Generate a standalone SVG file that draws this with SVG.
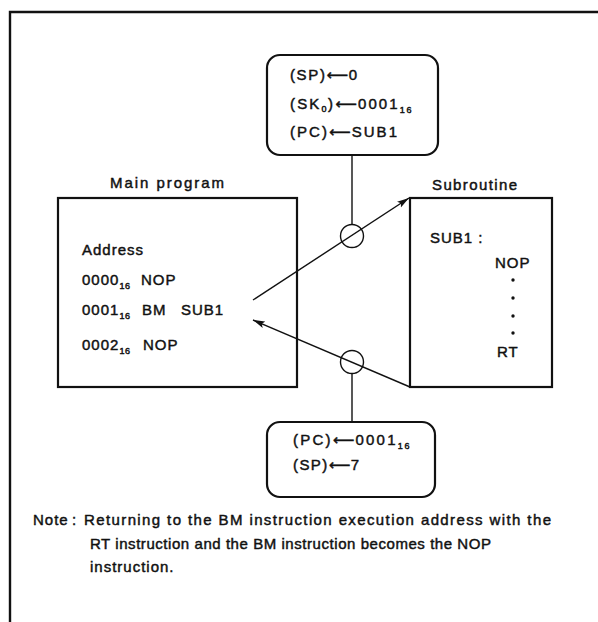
<svg xmlns="http://www.w3.org/2000/svg" width="598" height="622" viewBox="0 0 598 622">
  <style>
    .t { font-family: "Liberation Sans", Arial, sans-serif; font-size: 15px; letter-spacing: 1px; fill: #111; stroke: #111; stroke-width: 0.45px; }
    .sub { font-size: 9px; letter-spacing: 0.5px; }
    .ar { font-family: "DejaVu Sans", sans-serif; font-size: 15px; letter-spacing: 0; }
    .box { fill: none; stroke: #111; stroke-width: 2.2; }
    .ln { fill: none; stroke: #111; stroke-width: 1.4; }
  </style>
  <defs>
    <marker id="head" viewBox="0 0 12 8" refX="12" refY="4" markerWidth="12" markerHeight="8" markerUnits="userSpaceOnUse" orient="auto">
      <path d="M0,0.5 L12,4 L0,7.5 L2.5,4 Z" fill="#111"/>
    </marker>
  </defs>

  <rect width="598" height="622" fill="#fff"/>

  <!-- outer frame -->
  <path d="M10,622 V12 H598" fill="none" stroke="#111" stroke-width="2.4"/>

  <!-- connectors -->
  <g id="connectors">
    <line class="ln" x1="352" y1="155" x2="352" y2="224"/>
    <line class="ln" x1="352" y1="374" x2="352" y2="422"/>
    <circle class="ln" cx="352" cy="236" r="11.5"/>
    <circle class="ln" cx="352" cy="362" r="11.5"/>
    <line class="ln" x1="253" y1="300" x2="409" y2="198" marker-end="url(#head)"/>
    <line class="ln" x1="410" y1="387" x2="253" y2="320" marker-end="url(#head)"/>
  </g>

  <!-- call actions -->
  <g id="call-box">
    <rect class="box" x="267" y="55" width="171" height="100" rx="13"/>
    <text class="t" x="290" y="80" textLength="68" lengthAdjust="spacing">(SP)<tspan class="ar">⟵</tspan>0</text>
    <text class="t" x="290" y="109" textLength="122" lengthAdjust="spacing">(SK<tspan class="sub" dy="3">0</tspan><tspan dy="-3">)</tspan><tspan class="ar">⟵</tspan>0001<tspan class="sub" dy="4">16</tspan></text>
    <text class="t" x="290" y="137" textLength="108" lengthAdjust="spacing">(PC)<tspan class="ar">⟵</tspan>SUB1</text>
  </g>

  <!-- main program -->
  <g id="main-program">
    <text class="t" x="110" y="188" textLength="115" lengthAdjust="spacing">Main program</text>
    <rect class="box" x="58" y="198" width="239" height="189"/>
    <text class="t" x="82" y="255">Address</text>
    <text class="t" x="82" y="285">0000<tspan class="sub" dy="4">16</tspan><tspan x="141" dy="-4">NOP</tspan></text>
    <text class="t" x="82" y="315">0001<tspan class="sub" dy="4">16</tspan><tspan x="142" dy="-4">BM</tspan><tspan x="181">SUB1</tspan></text>
    <text class="t" x="82" y="350">0002<tspan class="sub" dy="4">16</tspan><tspan x="143" dy="-4">NOP</tspan></text>
  </g>

  <!-- subroutine -->
  <g id="subroutine">
    <text class="t" x="432" y="190" textLength="86" lengthAdjust="spacing">Subroutine</text>
    <rect class="box" x="410" y="198" width="142" height="189"/>
    <text class="t" x="430" y="243">SUB1 :</text>
    <text class="t" x="495" y="268">NOP</text>
    <circle cx="513" cy="280" r="1.7" fill="#111"/>
    <circle cx="513" cy="298" r="1.7" fill="#111"/>
    <circle cx="513" cy="316" r="1.7" fill="#111"/>
    <circle cx="513" cy="333" r="1.7" fill="#111"/>
    <text class="t" x="497" y="357">RT</text>
  </g>

  <!-- return actions -->
  <g id="return-box">
    <rect class="box" x="267" y="422" width="168" height="75" rx="13"/>
    <text class="t" x="293" y="445" textLength="117" lengthAdjust="spacing">(PC)<tspan class="ar">⟵</tspan>0001<tspan class="sub" dy="4">16</tspan></text>
    <text class="t" x="293" y="470" textLength="67" lengthAdjust="spacing">(SP)<tspan class="ar">⟵</tspan>7</text>
  </g>

  <!-- note -->
  <g id="note">
    <text class="t" x="33" y="525">Note</text>
    <text class="t" x="72" y="525">:</text>
    <text class="t" x="84" y="525" textLength="468" lengthAdjust="spacing">Returning to the BM instruction execution address with the</text>
    <text class="t" x="90" y="549" textLength="402" lengthAdjust="spacing">RT instruction and the BM instruction becomes the NOP</text>
    <text class="t" x="90" y="572">instruction.</text>
  </g>
</svg>
